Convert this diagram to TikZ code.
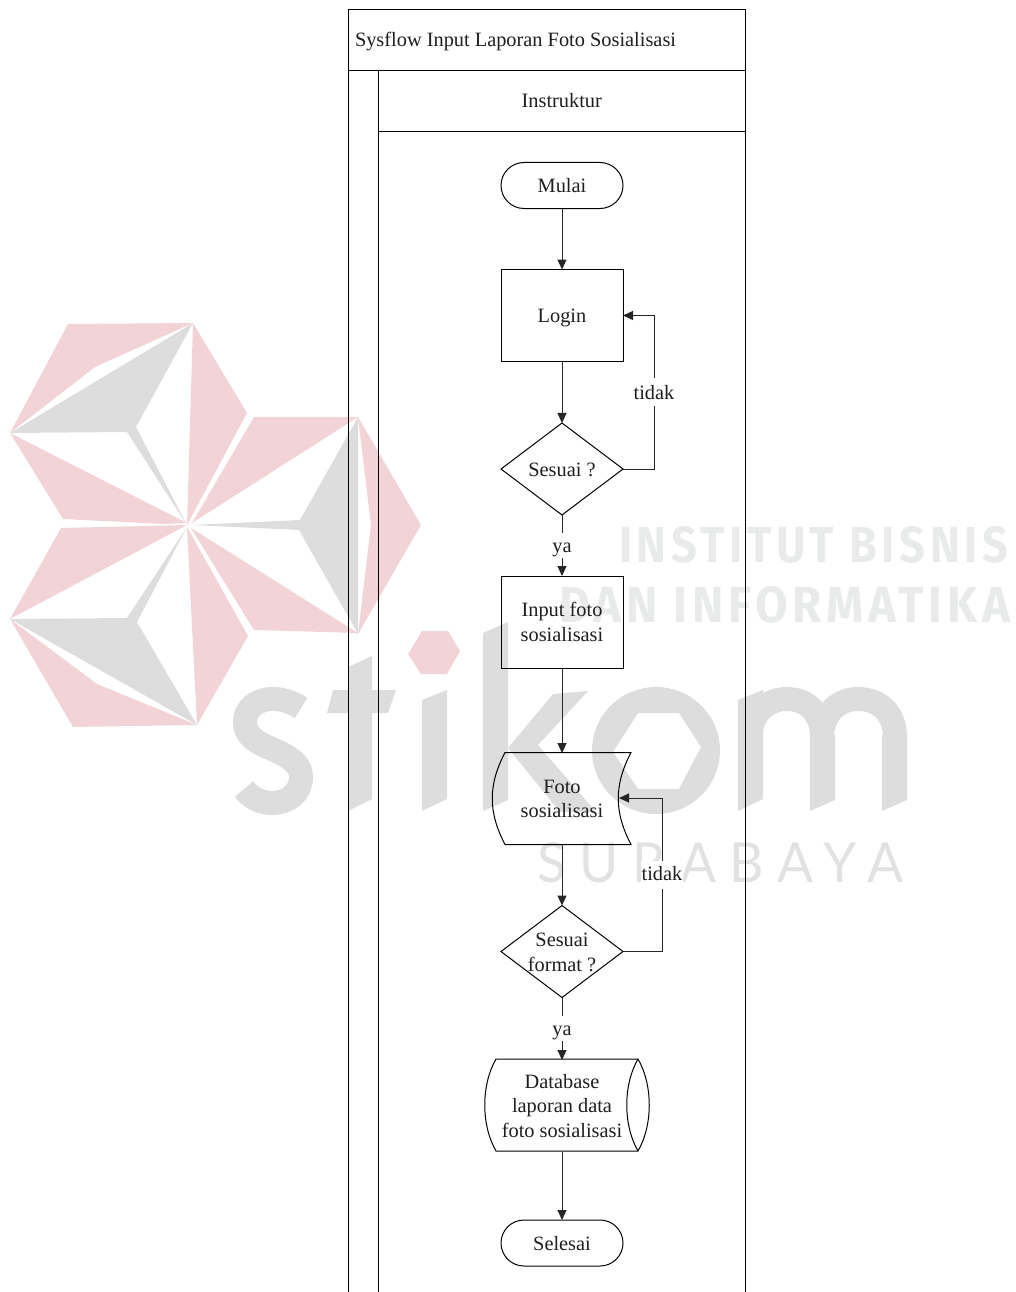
\documentclass[tikz,border=0pt]{standalone}
\usepackage{fontspec}
\usepackage{graphicx}
\setmainfont{Liberation Serif}
\newfontfamily\wmbold[LetterSpace=10]{Fira Sans}
\newfontfamily\wmlight[LetterSpace=26]{Lato}
\usetikzlibrary{shapes.geometric,shapes.misc,arrows.meta}
\definecolor{wmpink}{HTML}{F2D3D8}
\definecolor{wmgray}{HTML}{DDDDDD}
\definecolor{wmtext}{HTML}{E9EBEB}
\definecolor{wmlett}{HTML}{E2E2E2}
\definecolor{inktext}{HTML}{1E1E1E}
\newcommand\lowered[2]{\raisebox{-#1pt}[0pt][0pt]{#2}}
\tikzset{
  every node/.style={font=\fontsize{20.35}{24.5}\selectfont,text=inktext,align=center,inner sep=0pt,outer sep=0pt},
  ln/.style={line width=1pt,draw=black},
  terminal/.style={ln,rounded rectangle,minimum width=122pt,minimum height=46pt},
  procbox/.style={ln,rectangle,minimum width=122pt,minimum height=92pt},
  decision/.style={ln,diamond,minimum width=122pt,minimum height=92pt},
  hollow/.style={rectangle,minimum width=122pt,minimum height=92pt},
  inlabel/.style={font=\fontsize{20.35}{24.5}\selectfont,text=inktext,align=center,yshift=-1pt},
  flow/.style={line width=1pt,draw=black!85,-{Triangle[length=10pt,width=9pt]}},
  flowlabel/.style={fill=white,minimum height=25pt,minimum width=22pt},
  flowlabelb/.style={fill=white,minimum height=28pt,minimum width=42pt},
  wp/.style={fill=wmpink,draw=none},
  wg/.style={fill=wmgray,draw=none},
  wgs/.style={draw=wmgray,line width=24pt,line cap=butt}
}
\begin{document}
\begin{tikzpicture}[x=1pt,y=-1pt]
\useasboundingbox (0,0) rectangle (1015,1292);
% watermark logo
\fill[wp] (10,433) -- (68,324) -- (193,323) -- (95,367) -- cycle;
\fill[wp] (193,323) -- (247,413) -- (187,525) -- cycle;
\fill[wp] (10,433) -- (187,523) -- (165,524) -- (63,519) -- cycle;
\fill[wg] (10,433) -- (193,323) -- (136,427) -- (187,525) -- (127,432) -- cycle;
\fill[wp] (254,417) -- (358,417) -- (192,523) -- cycle;
\fill[wp] (358,417) -- (421,525) -- (358,634) -- (371,525) -- cycle;
\fill[wg] (358,417) -- (300,520) -- (192,525) -- (299,530) -- (358,634) -- cycle;
\fill[wp] (191,528) -- (358,633) -- (254,630) -- cycle;
\fill[wp] (187,527) -- (248,636) -- (197,725) -- cycle;
\fill[wp] (10,619) -- (97,684) -- (197,725) -- (73,727) -- cycle;
\fill[wg] (10,619) -- (127,618) -- (187,527) -- (137,622) -- (197,725) -- cycle;
\fill[wp] (10,619) -- (61,528) -- (187,525) -- cycle;
% watermark word
\fill[wp] (408,654) -- (422,631) -- (448,631) -- (460,651) -- (447,674) -- (421,674) -- cycle;
\draw[wgs] (301,708) .. controls (292,702) and (283,699) .. (273,699) .. controls (256,699) and (245,709) .. (245,722) .. controls (245,737) and (258,743) .. (272,749) .. controls (288,756) and (301,763) .. (301,777) .. controls (301,793) and (288,803) .. (272,803) .. controls (260,803) and (250,797) .. (244,789);
\fill[wg] (348,667) -- (372,656) -- (372,799) -- (348,811) -- cycle;
\fill[wg] (333,690) -- (396,690) -- (388,713) -- (327,713) -- cycle;
\fill[wg] (422,700) -- (447,690) -- (447,799) -- (422,811) -- cycle;
\fill[wg] (483,633) -- (508,622) -- (508,800) -- (483,811) -- cycle;
\fill[wg] (553,694) -- (588,691) -- (538,745) -- (596,812) -- (560,812) -- (508,748) -- cycle;
\fill[wg,even odd rule] (656,750.5) ellipse [x radius=64,y radius=63.5]
  (638,713) -- (679,713) -- (701,747) -- (679,789) -- (638,789) -- (613,752) -- cycle;
\fill[wg] (738,700) -- (763,690) -- (763,799) -- (738,811) -- cycle;
\fill[wg] (810,735) -- (835,735) -- (835,800) -- (810,811) -- cycle;
\fill[wg] (882,735) -- (907,735) -- (907,800) -- (882,811) -- cycle;
\draw[wgs] (750,740) .. controls (750,712) and (768,699) .. (787,699) .. controls (808,699) and (822,714) .. (822,737);
\draw[wgs] (822,737) .. controls (822,714) and (838,699) .. (858,699) .. controls (880,699) and (895,714) .. (895,737);
\node[anchor=south west] (wm1) at (619,563) {\resizebox{389pt}{36pt}{\color{wmtext}\wmbold\bfseries INSTITUT BISNIS}};
\node[anchor=south west] (wm2) at (559,623) {\resizebox{451pt}{36pt}{\color{wmtext}\wmbold\bfseries DAN INFORMATIKA}};
\node[anchor=south west] (wm3) at (537,883) {\resizebox{366pt}{40pt}{\color{wmlett}\wmlight SURABAYA}};
% swimlane frame
\node[ln,rectangle,minimum width=397pt,minimum height=61pt,anchor=north west] (titlebox) at (348,9.5) {};
\node[anchor=west] (titletext) at (355,40) {\lowered{6.5}{Sysflow Input Laporan Foto Sosialisasi}};
\node[ln,rectangle,minimum width=366.4pt,minimum height=61pt,anchor=north west] (lanehead) at (378.6,70.5) {\lowered{6.5}{Instruktur}};
\coordinate (frameL) at (348,70);
\coordinate (frameLb) at (348,1292);
\coordinate (laneLb) at (378.6,1292);
\coordinate (frameR) at (745,131);
\coordinate (frameRb) at (745,1292);
\draw[ln] (frameL) -- (frameLb);
\draw[ln] (lanehead.south west) -- (laneLb);
\draw[ln] (frameR) -- (frameRb);
% shapes
\node[terminal] (mulai) at (562,185.5) {\lowered{7}{Mulai}};
\node[procbox] (login) at (562,315.5) {\lowered{6.5}{Login}};
\node[decision,label={[inlabel]center:{Sesuai ?}}] (cek1) at (562,469) {};
\node[procbox] (input) at (562,622) {Input foto\\sosialisasi};
\node[hollow,yshift=-1pt] (foto) at (562,798) {Foto\\sosialisasi};
\draw[ln] (505,752.5) .. controls (488,785) and (488,812) .. (505,844.5) -- (631,844.5)
  .. controls (614,812) and (614,785) .. (631,752.5) -- cycle;
\node[decision,label={[inlabel]center:{Sesuai\\format ?}}] (cek2) at (562,951.5) {};
\node[hollow,yshift=-1pt] (db) at (562,1105) {Database\\laporan data\\foto sosialisasi};
\draw[ln] (496,1059) .. controls (481,1085) and (481,1125) .. (496,1151) -- (638,1151)
  .. controls (653,1125) and (653,1085) .. (638,1059) -- cycle;
\draw[ln] (638,1059) .. controls (623,1085) and (623,1125) .. (638,1151);
\node[terminal] (selesai) at (562,1243) {\lowered{7}{Selesai}};
% connectors
\coordinate (c1a) at (654,469);
\coordinate (c1b) at (654,315.5);
\coordinate (c2a) at (662,951.5);
\coordinate (c2b) at (662,798);
\coordinate (fotoin) at (619,798);
\draw[flow] (mulai) -- (login);
\draw[flow] (login) -- (cek1);
\draw[flow] (cek1) -- node[flowlabel] (ya1) {\lowered{6.5}{ya}} (input);
\draw[flow] (input) -- (foto);
\draw[flow] (foto) -- (cek2);
\draw[flow] (cek2) -- node[flowlabel] (ya2) {\lowered{7}{ya}} (db);
\draw[flow] (db) -- (selesai);
\draw[flow] (cek1.east) -- (c1a) -- node[flowlabelb,pos=.5] (no1) {\lowered{7}{tidak}} (c1b) -- (login.east);
\draw[flow] (cek2.east) -- (c2a) -- node[flowlabelb,pos=.5] (no2) {\lowered{5.5}{tidak}} (c2b) -- (fotoin);
\end{tikzpicture}
\end{document}
